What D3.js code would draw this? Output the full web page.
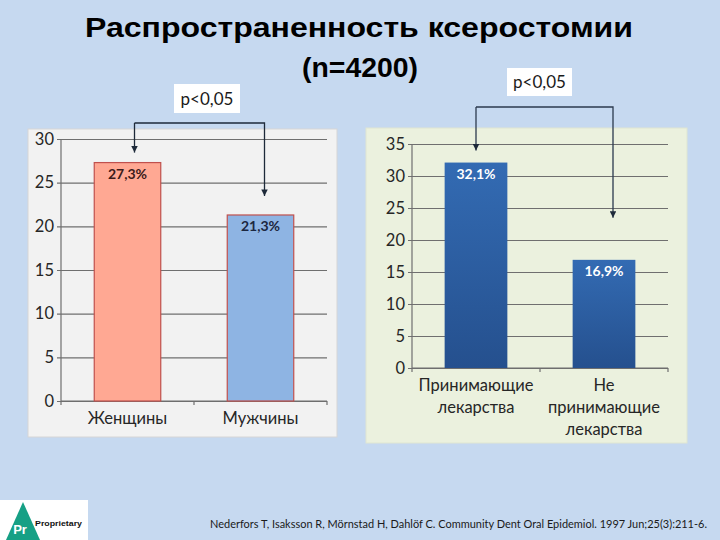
<!DOCTYPE html>
<html><head><meta charset="utf-8">
<script src="https://cdn.jsdelivr.net/npm/d3@7/dist/d3.min.js"></script>
<style>body{margin:0;background:#c6d9f0;}svg{display:block;}</style>
</head><body>
<svg id="c" width="720" height="540"></svg>
<script>
// ---- data ----
const titleLines = ["Распространенность ксеростомии", "(n=4200)"];
const leftCategories = ["Женщины", "Мужчины"];
const leftValues = [27.3, 21.3];
const leftLabels = ["27,3%", "21,3%"];
const leftTicks = [0, 5, 10, 15, 20, 25, 30];
const rightCategories = [["Принимающие", "лекарства"], ["Не", "принимающие", "лекарства"]];
const rightKeys = ["take", "notake"];
const rightValues = [32.1, 16.9];
const rightLabels = ["32,1%", "16,9%"];
const rightTicks = [0, 5, 10, 15, 20, 25, 30, 35];
const pLabels = ["p<0,05", "p<0,05"];
const citation = "Nederfors T, Isaksson R, Mörnstad H, Dahlöf C. Community Dent Oral Epidemiol. 1997 Jun;25(3):211-6.";

const svg = d3.select("#c");
svg.append("rect").attr("width", 720).attr("height", 540).attr("fill", "#c6d9f0");

const defs = svg.append("defs");
defs.append("marker").attr("id", "arr").attr("viewBox", "0 0 10 10").attr("refX", 10).attr("refY", 5)
  .attr("markerWidth", 5).attr("markerHeight", 5).attr("orient", "auto")
  .append("path").attr("d", "M0,0 L10,5 L0,10 z").attr("fill", "#1e2a3a");
const grad = defs.append("linearGradient").attr("id", "bg").attr("x1", 0).attr("y1", 0).attr("x2", 0).attr("y2", 1);
grad.append("stop").attr("offset", "0%").attr("stop-color", "#336bb3");
grad.append("stop").attr("offset", "100%").attr("stop-color", "#25508e");

// ---- title ----
svg.append("text").attr("x", 359).attr("y", 37).attr("text-anchor", "middle")
  .attr("font-family", "Liberation Sans, Arial, sans-serif").attr("font-weight", "bold")
  .attr("font-size", 27.5).attr("fill", "#000")
  .attr("textLength", 548).attr("lengthAdjust", "spacingAndGlyphs").text(titleLines[0]);
svg.append("text").attr("x", 360).attr("y", 77).attr("text-anchor", "middle")
  .attr("font-family", "Liberation Sans, Arial, sans-serif").attr("font-weight", "bold")
  .attr("font-size", 27).attr("fill", "#000")
  .attr("textLength", 116).attr("lengthAdjust", "spacingAndGlyphs").text(titleLines[1]);

const FONT = "Lato, 'Open Sans', sans-serif";

function drawChart(opts) {
  const g = svg.append("g");
  g.append("rect").attr("x", opts.panel[0]).attr("y", opts.panel[1]).attr("width", opts.panel[2]).attr("height", opts.panel[3])
    .attr("fill", opts.panelFill).attr("stroke", opts.panelStroke).attr("stroke-width", 1);
  const x = d3.scaleBand().domain(opts.keys).range([opts.x0, opts.x1]).padding(0);
  const y = d3.scaleLinear().domain([0, d3.max(opts.ticks)]).range([opts.y0, opts.y1]);
  const plotW = opts.x1 - opts.x0;
  const ax = g.append("g").attr("transform", `translate(${opts.x0},0)`)
    .call(d3.axisLeft(y).tickValues(opts.ticks).tickSizeInner(-plotW).tickSizeOuter(0).tickPadding(7).tickFormat(d3.format("d")));
  ax.select(".domain").remove();
  ax.selectAll(".tick line").attr("x1", -4).attr("stroke", opts.gridColor).attr("stroke-width", 1.2);
  ax.selectAll(".tick text").attr("font-family", FONT).attr("font-size", 16.5).attr("fill", "#262626");
  // y axis line
  g.append("line").attr("x1", opts.x0).attr("x2", opts.x0).attr("y1", y(d3.max(opts.ticks))).attr("y2", y(0))
    .attr("stroke", opts.gridColor).attr("stroke-width", 1.2);
  // x axis line + ticks at band boundaries
  g.append("line").attr("x1", opts.x0).attr("x2", opts.x1).attr("y1", y(0)).attr("y2", y(0))
    .attr("stroke", opts.gridColor).attr("stroke-width", 1.2);
  const bounds = opts.keys.map(k => x(k)).concat([opts.x1]);
  g.selectAll(".xt").data(bounds).join("line").attr("x1", d => d).attr("x2", d => d)
    .attr("y1", y(0)).attr("y2", y(0) + 4).attr("stroke", opts.gridColor).attr("stroke-width", 1.2);
  // bars
  const bw = x.bandwidth() * opts.barFrac;
  g.selectAll(".bar").data(opts.values).join("rect")
    .attr("x", (d, i) => x(opts.keys[i]) + (x.bandwidth() - bw) / 2)
    .attr("y", d => y(d)).attr("width", bw).attr("height", d => y(0) - y(d))
    .attr("fill", (d, i) => opts.fills[i]).attr("stroke", opts.barStroke).attr("stroke-width", opts.barStroke === "none" ? 0 : 1.2);
  // value labels
  g.selectAll(".vl").data(opts.values).join("text")
    .attr("x", (d, i) => x(opts.keys[i]) + x.bandwidth() / 2)
    .attr("y", d => y(d) + 16).attr("text-anchor", "middle")
    .attr("font-family", FONT).attr("font-weight", "bold").attr("font-size", 14)
    .attr("fill", (d, i) => opts.labelColors[i]).text((d, i) => opts.labels[i]);
  // category labels
  opts.cats.forEach((lines, i) => {
    const t = g.append("text").attr("text-anchor", "middle").attr("font-family", FONT).attr("font-size", 16.5).attr("fill", "#262626");
    lines.forEach((ln, j) => {
      t.append("tspan").attr("x", x(opts.keys[i]) + x.bandwidth() / 2).attr("y", y(0) + 23 + j * 22).text(ln);
    });
  });
  return { x, y, bw };
}

const L = drawChart({
  panel: [28, 129, 309, 308], panelFill: "#f2f2f2", panelStroke: "#d6d6d6",
  keys: leftCategories, cats: leftCategories.map(c => [c]), values: leftValues, labels: leftLabels,
  ticks: leftTicks, x0: 61, x1: 327, y0: 401, y1: 139, gridColor: "#6f6f6f",
  barFrac: 0.5, fills: ["#ffa893", "#8eb4e3"], barStroke: "#c0504d",
  labelColors: ["#3c1a1a", "#1c2740"]
});
const R = drawChart({
  panel: [366, 128, 321, 315], panelFill: "#ebf1de", panelStroke: "#dfe6d2",
  keys: rightKeys, cats: rightCategories, values: rightValues, labels: rightLabels,
  ticks: rightTicks, x0: 412, x1: 668, y0: 368, y1: 144, gridColor: "#6f6f6f",
  barFrac: 0.49, fills: ["url(#bg)", "url(#bg)"], barStroke: "none",
  labelColors: ["#ffffff", "#ffffff"]
});

// ---- significance connectors ----
function connector(xa, ya, xb, yb, yTop, color) {
  svg.append("path").attr("d", `M${xa},${yTop} V${ya}`).attr("fill", "none").attr("stroke", color).attr("stroke-width", 1.3).attr("marker-end", "url(#arr)");
  svg.append("path").attr("d", `M${xa},${yTop} H${xb} V${yb}`).attr("fill", "none").attr("stroke", color).attr("stroke-width", 1.3).attr("marker-end", "url(#arr)");
}
const lc0 = L.x(leftCategories[0]) + L.x.bandwidth() / 2 + 7;
const lc1 = L.x(leftCategories[1]) + L.x.bandwidth() / 2 + 4;
connector(lc0, L.y(leftValues[0]) - 10, lc1, L.y(leftValues[1]) - 19, L.y(30) - 16, "#1e2a3a");
const rc0 = R.x(rightKeys[0]) + R.x.bandwidth() / 2;
const rc1 = R.x(rightKeys[1]) + R.x.bandwidth() / 2 + 9;
connector(rc0, R.y(rightValues[0]) - 12, rc1, R.y(rightValues[1]) - 42, R.y(35) - 37, "#2c3a4e");

function pbox(cx, y, w, h, txt) {
  svg.append("rect").attr("x", cx - w / 2).attr("y", y).attr("width", w).attr("height", h).attr("fill", "#fff");
  svg.append("text").attr("x", cx).attr("y", y + h / 2 + 6).attr("text-anchor", "middle")
    .attr("font-family", FONT).attr("font-size", 17).attr("fill", "#1a1a1a").text(txt);
}
pbox(207, 84, 66, 29, pLabels[0]);
pbox(539.5, 68, 65, 28, pLabels[1]);

// ---- citation ----
svg.append("text").attr("x", 210).attr("y", 528).attr("font-family", FONT).attr("font-size", 11)
  .attr("fill", "#1a1a1a").attr("textLength", 497).attr("lengthAdjust", "spacingAndGlyphs").text(citation);

// ---- logo ----
const lg = svg.append("g");
lg.append("rect").attr("x", 0).attr("y", 500).attr("width", 88).attr("height", 40).attr("fill", "#fff");
lg.append("path").attr("d", "M23,502 L40,540 L6,540 Z").attr("fill", "#16a085");
lg.append("text").attr("x", 20).attr("y", 534).attr("text-anchor", "middle").attr("font-family", "Liberation Sans, Arial, sans-serif")
  .attr("font-weight", "bold").attr("font-size", 13).attr("fill", "#fff").text("Pr");
lg.append("text").attr("x", 35).attr("y", 526).attr("font-family", "Liberation Sans, Arial, sans-serif")
  .attr("font-weight", "bold").attr("font-size", 8).attr("fill", "#111")
  .attr("textLength", 47).attr("lengthAdjust", "spacingAndGlyphs").text("Proprietary");
</script>
</body></html>
